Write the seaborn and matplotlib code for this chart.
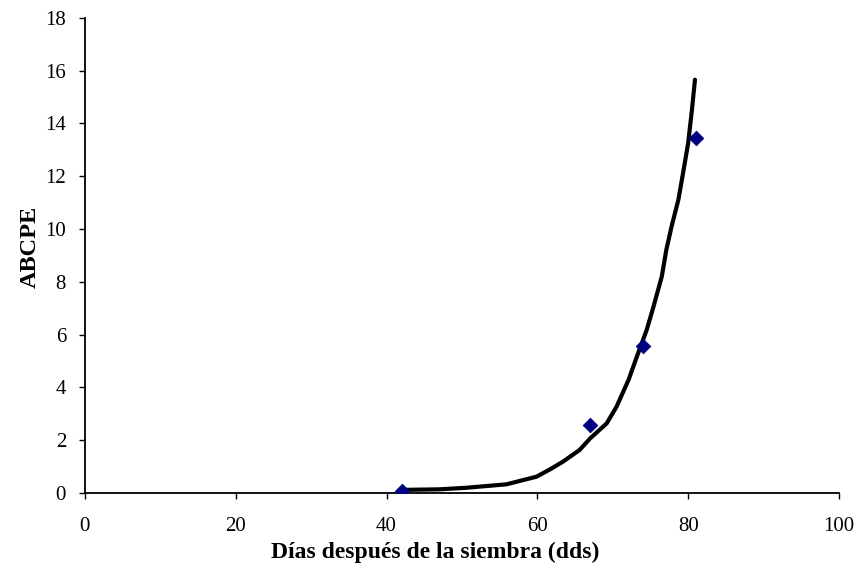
import seaborn as sns
import pandas as pd
import matplotlib.pyplot as plt

# observed values
obs_dias = [42, 67, 74, 81]
obs_abcpe = [0.09, 2.57, 5.57, 13.45]

# fitted curve
curva_dias = [42.2, 47.0, 50.6, 55.9, 59.9, 61.7, 63.4, 65.6, 67.0, 69.2, 70.5, 72.1,
              73.2, 74.5, 75.4, 76.5, 77.1, 77.8, 78.7, 79.4, 80.0, 80.5, 80.9]
curva_abcpe = [0.12, 0.14, 0.20, 0.33, 0.62, 0.90, 1.19, 1.63, 2.07, 2.64, 3.27, 4.29,
               5.17, 6.18, 7.06, 8.20, 9.21, 10.10, 11.11, 12.25, 13.26, 14.52, 15.66]

x_ticks = [0, 20, 40, 60, 80, 100]
y_ticks = [0, 2, 4, 6, 8, 10, 12, 14, 16, 18]

obs = pd.DataFrame({'dias': obs_dias, 'abcpe': obs_abcpe})
curva = pd.DataFrame({'dias': curva_dias, 'abcpe': curva_abcpe})

sns.set_style('ticks')
plt.rcParams['font.family'] = ['Liberation Serif', 'DejaVu Serif']
plt.rcParams['text.color'] = 'black'
plt.rcParams['axes.labelcolor'] = 'black'

fig = plt.figure(figsize=(8.57, 5.78), dpi=100)
ax = fig.add_axes([0.099, 0.147, 0.880, 0.822])

sns.lineplot(data=curva, x='dias', y='abcpe', ax=ax, color='black', linewidth=3,
             sort=False, estimator=None)
sns.scatterplot(data=obs, x='dias', y='abcpe', ax=ax, marker='D', s=55,
                color='#000080', edgecolor='#000080', zorder=3)

ax.set_xlim(0, 100)
ax.set_ylim(0, 18)
ax.set_xticks(x_ticks)
ax.set_yticks(y_ticks)
ax.tick_params(labelsize=15, length=4.5, width=1, colors='black')
ax.tick_params(axis='y', pad=9)
ax.tick_params(axis='x', pad=13)
for s in ['top', 'right']:
    ax.spines[s].set_visible(False)
for s in ['left', 'bottom']:
    ax.spines[s].set_linewidth(1.3)
    ax.spines[s].set_color('black')

ax.set_xlabel('Días después de la siembra (dds)', fontsize=17, fontweight='bold')
ax.set_ylabel('ABCPE', fontsize=17.5, fontweight='bold')
ax.xaxis.set_label_coords(0.464, -0.124, transform=ax.transAxes)
ax.yaxis.set_label_coords(-0.073, 0.518, transform=ax.transAxes)
ax.xaxis.label.set_va('center')
ax.yaxis.label.set_va('center')

fig.savefig('out.png', dpi=100)
